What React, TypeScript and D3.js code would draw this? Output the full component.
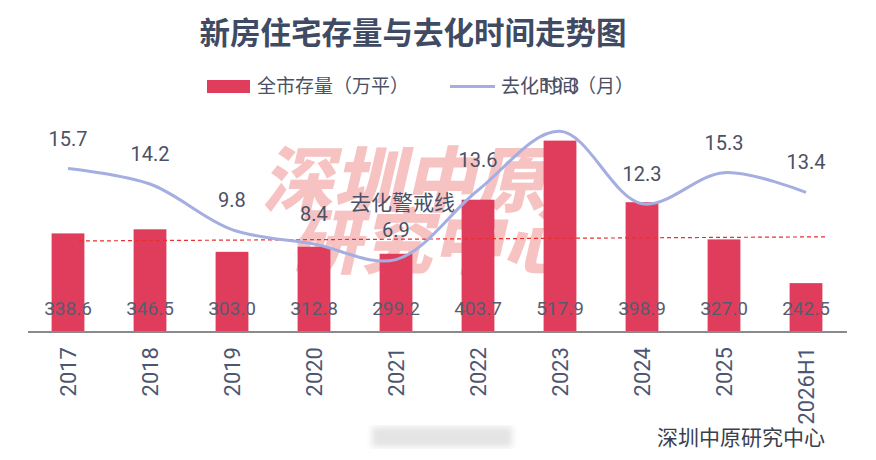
import React from 'react';
import * as d3 from 'd3';

// 画布尺寸
const width = 876;
const height = 460;

// 数据
const categories = ['2017', '2018', '2019', '2020', '2021', '2022', '2023', '2024', '2025', '2026H1'];
const stockValues = [338.6, 346.5, 303.0, 312.8, 299.2, 403.7, 517.9, 398.9, 327.0, 242.5];
const monthValues = [15.7, 14.2, 9.8, 8.4, 6.9, 13.6, 19.3, 12.3, 15.3, 13.4];
const warningMonths = [8.7, 9.1]; // 警戒线两端（月）

const FONT = "Roboto, 'Noto Sans CJK SC', sans-serif";
const BAR_COLOR = '#e03c5b';
const LINE_COLOR = '#a4aee0';
const TEXT_COLOR = '#4a5166';

export default function App() {
    const plotTop = 124;
    const plotBottom = 331;

    const x = d3.scaleBand<string>().domain(categories).range([27, 847]).padding(0);
    const barW = x.bandwidth() * 0.4;
    const cx = (c: string) => (x(c) as number) + x.bandwidth() / 2;

    const yStock = d3.scaleLinear().domain([150, 550]).range([plotBottom, plotTop]);
    const yMonth = d3.scaleLinear().domain([0, 20]).range([plotBottom, plotTop]);

    const linePath = d3.line<number>()
        .x((_, i) => cx(categories[i]))
        .y(d => yMonth(d))
        .curve(d3.curveCatmullRom.alpha(0.5))(monthValues) as string;

    const warnX0 = 79;
    const warnX1 = 826;

    return (
        <svg width={width} height={height}
            style={{ position: 'absolute', left: 0, top: 0, background: '#fff' }}
            fontFamily={FONT}>
            <defs>
                <filter id="blur"><feGaussianBlur stdDeviation="3" /></filter>
            </defs>

            {/* 标题 */}
            <text x={413} y={44} textAnchor="middle" fontSize={30.5} fontWeight="bold" fill="#3f4a63">
                新房住宅存量与去化时间走势图
            </text>

            {/* 水印 */}
            <g fill="#f6c2c2" fontSize={71} fontWeight={900}>
                <text x={262} y={206} transform="skewX(-13)" style={{ transformOrigin: '262px 206px' }}>深圳中原</text>
                <text x={290} y={268} transform="skewX(-13)" style={{ transformOrigin: '290px 268px' }}>研究中心</text>
            </g>

            {/* 图例 */}
            <rect x={207} y={80} width={43} height={13} fill={BAR_COLOR} />
            <text x={257} y={93} fontSize={19} fill={TEXT_COLOR}>全市存量（万平）</text>
            <line x1={450} x2={495} y1={86.5} y2={86.5} stroke={LINE_COLOR} strokeWidth={3} />
            <text x={501} y={93} fontSize={19} fill={TEXT_COLOR}>去化时间（月）</text>

            {/* 柱 */}
            {categories.map((c, i) => (
                <rect key={c} x={cx(c) - barW / 2} y={yStock(stockValues[i])}
                    width={barW} height={plotBottom - yStock(stockValues[i])} fill={BAR_COLOR} />
            ))}

            {/* 警戒线 */}
            <line x1={warnX0} x2={warnX1} y1={yMonth(warningMonths[0])} y2={yMonth(warningMonths[1])}
                stroke="#e8312f" strokeWidth={1.2} strokeDasharray="4,3" />
            <text x={350} y={210} fontSize={21} fill={TEXT_COLOR}>去化警戒线</text>

            {/* 去化时间曲线 */}
            <path d={linePath} fill="none" stroke={LINE_COLOR} strokeWidth={3} />

            {/* 曲线标签 */}
            {categories.map((c, i) => (
                <text key={c} x={cx(c)} textAnchor="middle" fontSize={20} fill={TEXT_COLOR}
                    y={i === 6 ? 93 : yMonth(monthValues[i]) - 23}>
                    {monthValues[i].toFixed(1)}
                </text>
            ))}

            {/* 柱内标签 */}
            {categories.map((c, i) => (
                <text key={c} x={cx(c)} y={315} textAnchor="middle" fontSize={19} fill="#565d70">
                    {stockValues[i].toFixed(1)}
                </text>
            ))}

            {/* X 轴 */}
            <line x1={28} x2={847} y1={plotBottom + 1} y2={plotBottom + 1} stroke="#8a8a8a" strokeWidth={2} />
            {categories.map(c => (
                <text key={c} transform={`translate(${cx(c) + 8},${347}) rotate(-90)`}
                    textAnchor="end" fontSize={22} fill="#4d5670">{c}</text>
            ))}

            {/* 模糊块 */}
            <rect x={372} y={427} width={140} height={20} fill="#e4e4e4" filter="url(#blur)" />

            {/* 来源 */}
            <text x={825} y={445} textAnchor="end" fontSize={21} fill="#3a3f50">深圳中原研究中心</text>
        </svg>
    );
}
